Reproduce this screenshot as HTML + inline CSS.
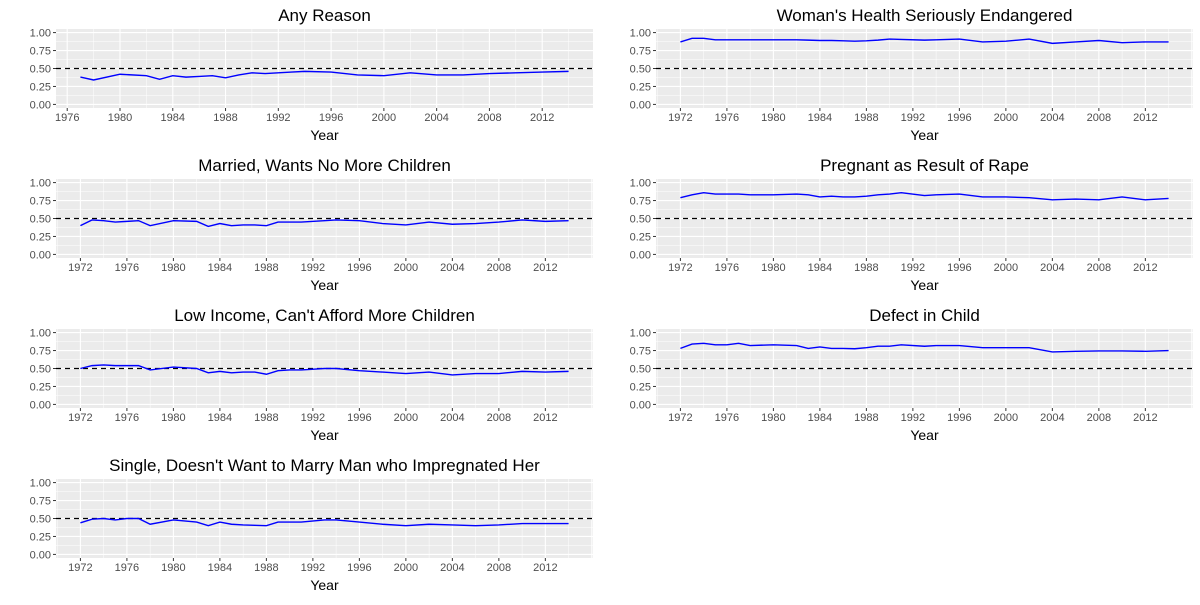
<!DOCTYPE html>
<html><head><meta charset="utf-8"><style>
body{margin:0;background:#fff;font-family:"Liberation Sans",sans-serif}
</style></head><body>
<svg id="chart" width="1200" height="600" xmlns="http://www.w3.org/2000/svg"></svg>
<script>
const titles=["Any Reason","Woman's Health Seriously Endangered","Married, Wants No More Children","Pregnant as Result of Rape","Low Income, Can't Afford More Children","Defect in Child","Single, Doesn't Want to Marry Man who Impregnated Her"];
const yearsFull=[1972,1973,1974,1975,1976,1977,1978,1980,1982,1983,1984,1985,1986,1987,1988,1989,1990,1991,1993,1994,1996,1998,2000,2002,2004,2006,2008,2010,2012,2014];
const yearsAny=[1977,1978,1980,1982,1983,1984,1985,1986,1987,1988,1989,1990,1991,1993,1994,1996,1998,2000,2002,2004,2006,2008,2010,2012,2014];
const anyReason=[0.38,0.34,0.42,0.40,0.35,0.40,0.38,0.39,0.40,0.37,0.41,0.44,0.43,0.45,0.46,0.45,0.41,0.40,0.44,0.41,0.41,0.43,0.44,0.45,0.46];
const health=[0.87,0.92,0.92,0.90,0.90,0.90,0.90,0.90,0.90,0.895,0.89,0.89,0.885,0.88,0.885,0.895,0.91,0.905,0.895,0.90,0.91,0.87,0.88,0.91,0.85,0.87,0.89,0.86,0.87,0.87];
const married=[0.40,0.48,0.47,0.45,0.46,0.47,0.40,0.47,0.46,0.39,0.43,0.40,0.41,0.41,0.40,0.45,0.45,0.45,0.47,0.48,0.47,0.43,0.41,0.45,0.42,0.43,0.45,0.48,0.46,0.47];
const rape=[0.79,0.83,0.86,0.84,0.84,0.84,0.83,0.83,0.84,0.83,0.80,0.81,0.80,0.80,0.81,0.83,0.84,0.86,0.82,0.83,0.84,0.80,0.80,0.79,0.76,0.77,0.76,0.80,0.76,0.78];
const lowIncome=[0.50,0.54,0.55,0.54,0.54,0.54,0.48,0.52,0.50,0.44,0.46,0.44,0.45,0.45,0.42,0.47,0.48,0.48,0.50,0.50,0.47,0.45,0.43,0.45,0.41,0.43,0.43,0.46,0.45,0.46];
const defect=[0.78,0.84,0.85,0.83,0.83,0.85,0.82,0.83,0.82,0.78,0.80,0.78,0.78,0.775,0.79,0.81,0.81,0.83,0.81,0.82,0.82,0.79,0.79,0.79,0.73,0.74,0.745,0.745,0.74,0.75];
const single=[0.44,0.49,0.50,0.48,0.50,0.50,0.42,0.48,0.45,0.40,0.45,0.42,0.41,0.405,0.40,0.45,0.45,0.45,0.48,0.48,0.45,0.42,0.40,0.42,0.41,0.40,0.41,0.43,0.43,0.43];
const yTicks=[0,0.25,0.5,0.75,1];
const yTickLabels=["0.00","0.25","0.50","0.75","1.00"];
const refLine=0.5;
const panels=[[yearsAny,anyReason],[yearsFull,health],[yearsFull,married],[yearsFull,rape],[yearsFull,lowIncome],[yearsFull,defect],[yearsFull,single]];
const NS="http://www.w3.org/2000/svg";
const svg=document.getElementById('chart');
function mk(tag,attrs,parent){const e=document.createElementNS(NS,tag);for(const k in attrs)e.setAttribute(k,attrs[k]);parent.appendChild(e);return e;}
panels.forEach((p,i)=>{
  const col=i%2,row=Math.floor(i/2);
  const L=col?656:56,R=col?1193:593,T=29+150*row,B=108+150*row;
  const g=mk('g',{},svg);
  
  
  const xs=p[0],vs=p[1];
  const mn=Math.min(...xs),mxv=Math.max(...xs),pad=(mxv-mn)*0.05;
  const x=v=>L+(v-(mn-pad))/((mxv+pad)-(mn-pad))*(R-L);
  const ylo=-0.05,yhi=1.05;
  const y=v=>B-(v-ylo)/(yhi-ylo)*(B-T);
  const bg=mk('rect',{x:L,y:T,width:R-L,height:B-T,fill:'#ebebeb'},g);
  
  
  for(let k=0;k<4;k++){const v=0.125+0.25*k;mk('line',{x1:L,x2:R,y1:y(v),y2:y(v),stroke:'#fff','stroke-width':0.5},g);}
  for(let yr=1960;yr<=2020;yr+=2){if(x(yr)<L||x(yr)>R)continue;const maj=yr%4===0;
    mk('line',{x1:x(yr),x2:x(yr),y1:T,y2:B,stroke:'#fff','stroke-width':maj?1.1:0.5},g);
    if(maj&&yr<=mxv){mk('line',{x1:x(yr),x2:x(yr),y1:B,y2:B+3,stroke:'#333','stroke-width':1},g);
      const t=mk('text',{x:x(yr),y:B+13,'text-anchor':'middle','font-size':11,fill:'#4d4d4d'},g);t.textContent=yr;
      
      }}
  yTicks.forEach((v,k)=>{mk('line',{x1:L,x2:R,y1:y(v),y2:y(v),stroke:'#fff','stroke-width':1.1},g);
    mk('line',{x1:L-3,x2:L,y1:y(v),y2:y(v),stroke:'#333','stroke-width':1},g);
    const t=mk('text',{x:L-5,y:y(v)+4,'text-anchor':'end','font-size':11,fill:'#4d4d4d'},g);t.textContent=yTickLabels[k];
    
    });
  const hl=mk('line',{x1:L,x2:R,y1:y(refLine),y2:y(refLine),stroke:'#000','stroke-width':1.3,'stroke-dasharray':'5,4'},g);
  
  
  const pl=mk('polyline',{points:xs.map((yr,k)=>x(yr)+','+y(vs[k])).join(' '),fill:'none',stroke:'#0000ff','stroke-width':1.4},g);
  
  
  const tt=mk('text',{x:(L+R)/2,y:21+150*row,'text-anchor':'middle','font-size':17,fill:'#000'},g);tt.textContent=titles[i];
  
  
  const xl=mk('text',{x:(L+R)/2,y:140+150*row,'text-anchor':'middle','font-size':14,fill:'#000'},g);xl.textContent='Year';
  
  
});
</script>
</body></html>
